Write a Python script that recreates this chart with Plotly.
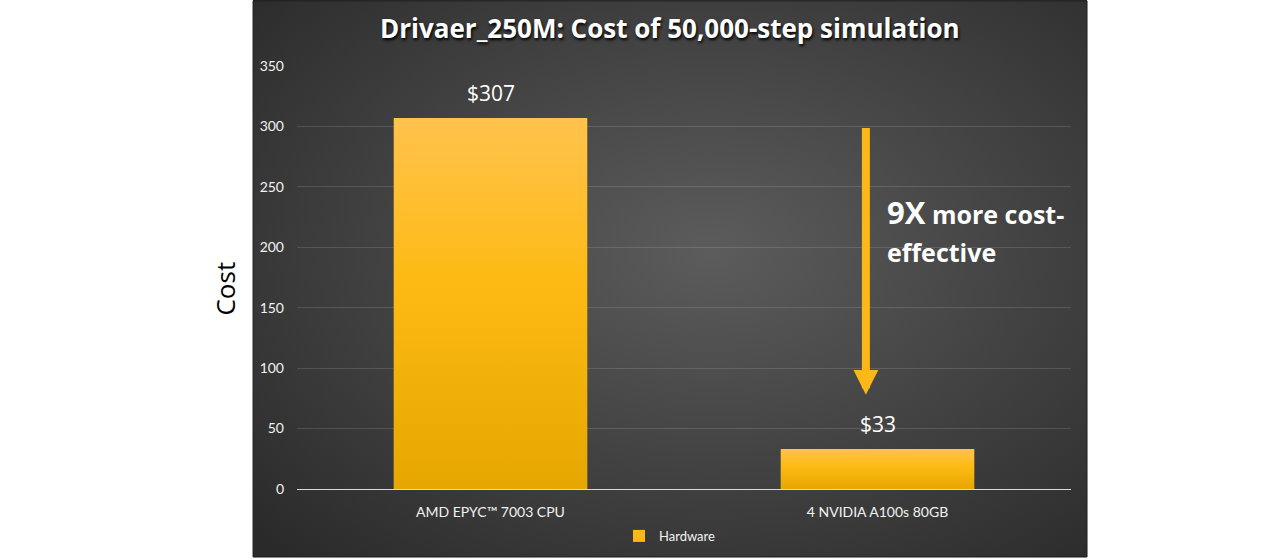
import base64

import plotly.graph_objects as go

# chart data
categories = ["AMD EPYC™ 7003 CPU", "4 NVIDIA A100s 80GB"]
costs = [307, 33]
series_name = "Hardware"
y_ticks = [0, 50, 100, 150, 200, 250, 300, 350]
arrow_from, arrow_to = 300, 78

BAR_COLOR = "#FDB913"
TEXT_COLOR = "#F2F2F2"


def svg_uri(svg: str) -> str:
    return "data:image/svg+xml;base64," + base64.b64encode(svg.encode()).decode()


panel_svg = svg_uri(
    '<svg xmlns="http://www.w3.org/2000/svg" width="100" height="100" preserveAspectRatio="none">'
    '<defs><radialGradient id="g" cx="0.55" cy="0.45" r="0.75">'
    '<stop offset="0" stop-color="#5c5c5c"/><stop offset="1" stop-color="#2a2a2a"/>'
    "</radialGradient></defs>"
    '<rect width="100" height="100" fill="url(#g)"/></svg>'
)
bar_svg = svg_uri(
    '<svg xmlns="http://www.w3.org/2000/svg" width="10" height="100" preserveAspectRatio="none">'
    '<defs><linearGradient id="b" x1="0" y1="0" x2="0" y2="1">'
    '<stop offset="0" stop-color="#FFC34D"/><stop offset="0.45" stop-color="#FDBA12"/>'
    '<stop offset="1" stop-color="#E6A700"/></linearGradient></defs>'
    '<rect width="10" height="100" fill="url(#b)"/></svg>'
)

fig = go.Figure()
fig.add_trace(
    go.Bar(
        x=categories,
        y=costs,
        name=series_name,
        width=0.5,
        marker=dict(color=BAR_COLOR, line=dict(width=0)),
        showlegend=True,
    )
)

images = [
    dict(
        source=panel_svg, xref="paper", yref="paper", x=-0.0568, y=1.156,
        sizex=1.0775, sizey=1.3168, sizing="stretch", xanchor="left", yanchor="top", layer="below",
    )
]
# gradient fill laid over each bar, sized from the bar's own value
for i, v in enumerate(costs):
    images.append(
        dict(
            source=bar_svg, xref="x", yref="y", x=i, y=v, sizex=0.5, sizey=v,
            sizing="stretch", xanchor="center", yanchor="top", layer="above",
        )
    )

# value labels sit a little higher above the bars than plotly's "outside" text
value_labels = [
    dict(
        x=c, y=v, xref="x", yref="y", text=f"${v}", showarrow=False, yanchor="bottom", yshift=9,
        font=dict(family="Open Sans", size=21, color="#FFFFFF"),
    )
    for c, v in zip(categories, costs)
]

fig.update_layout(
    width=1280,
    height=560,
    margin=dict(l=297, r=209, t=66, b=71, autoexpand=False),
    paper_bgcolor="#FFFFFF",
    plot_bgcolor="rgba(0,0,0,0)",
    images=images,
    bargap=0.5,
    showlegend=True,
    legend=dict(
        orientation="h", x=0.4819, xanchor="center", y=-0.111, yanchor="middle",
        font=dict(family="Lato", size=13, color=TEXT_COLOR), bgcolor="rgba(0,0,0,0)",
        itemwidth=30,
    ),
    shapes=[
        dict(
            type="rect", xref="paper", yref="paper", x0=-0.0568, x1=1.0207, y0=-0.1608, y1=1.154,
            line=dict(color="#1e1e1e", width=1), fillcolor="rgba(0,0,0,0)", layer="below",
        )
    ],
    annotations=value_labels
    + [
        dict(
            text="<b>Drivaer_250M: Cost of 50,000-step simulation</b>",
            xref="paper", yref="paper", x=0.4819, y=1.0898, xanchor="center", yanchor="middle",
            showarrow=False, font=dict(family="Open Sans", size=26, color="#FFFFFF", shadow="1px 2px 3px #000000"),
        ),
        dict(
            text="Cost", xref="paper", yref="paper", x=-0.093, y=0.474, textangle=-90,
            xanchor="center", yanchor="middle", showarrow=False,
            font=dict(family="Open Sans", size=26, color="#000000"),
        ),
        dict(
            x=0.97, y=arrow_to, ax=0.97, ay=arrow_from, xref="x", yref="y", axref="x", ayref="y",
            text="", showarrow=True, arrowhead=2, arrowsize=0.62, arrowwidth=8, arrowcolor="#FCB718",
        ),
        dict(
            text="<b><span style='font-size:31px'>9X</span> more cost-</b>",
            xref="paper", yref="paper", x=0.7597, y=0.6548, xanchor="left", yanchor="middle", align="left",
            showarrow=False, font=dict(family="Open Sans", size=25, color="#FFFFFF"),
        ),
        dict(
            text="<b>effective</b>",
            xref="paper", yref="paper", x=0.7597, y=0.5603, xanchor="left", yanchor="middle", align="left",
            showarrow=False, font=dict(family="Open Sans", size=25, color="#FFFFFF"),
        ),
    ],
)
fig.update_xaxes(
    type="category", range=[-0.5, 1.5], showgrid=False, showline=True, linecolor="#D9D9D9",
    ticks="", ticklabelstandoff=10, tickfont=dict(family="Lato", size=14, color=TEXT_COLOR),
)
fig.update_yaxes(
    range=[0, 350], tickvals=y_ticks, showgrid=True, gridcolor="rgba(255,255,255,0.13)",
    zeroline=False, showline=False, ticks="", ticklabelstandoff=12,
    tickfont=dict(family="Lato", size=14, color=TEXT_COLOR),
)

# the page's default 8px body margin would push the figure off the window grid
fig.write_html(
    "out.html",
    config={"displayModeBar": False},
    post_script="document.body.style.margin = '0';",
)
